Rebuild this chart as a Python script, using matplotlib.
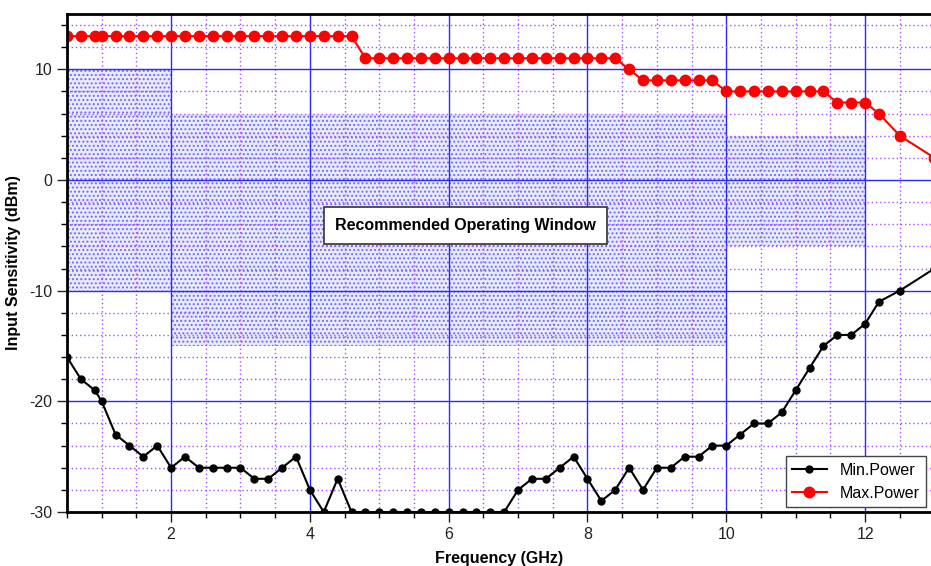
import matplotlib
matplotlib.use("Agg")
import matplotlib.pyplot as plt

plt.rcParams['font.family'] = ['Liberation Sans', 'DejaVu Sans']
plt.rcParams['hatch.linewidth'] = 0.9
plt.rcParams['axes.unicode_minus'] = False

# frequency points (GHz)
freq = [0.5, 0.7, 0.9, 1.0, 1.2, 1.4, 1.6, 1.8, 2.0, 2.2, 2.4, 2.6, 2.8, 3.0,
        3.2, 3.4, 3.6, 3.8, 4.0, 4.2, 4.4, 4.6, 4.8, 5.0, 5.2, 5.4, 5.6, 5.8,
        6.0, 6.2, 6.4, 6.6, 6.8, 7.0, 7.2, 7.4, 7.6, 7.8, 8.0, 8.2, 8.4, 8.6,
        8.8, 9.0, 9.2, 9.4, 9.6, 9.8, 10.0, 10.2, 10.4, 10.6, 10.8, 11.0, 11.2,
        11.4, 11.6, 11.8, 12.0, 12.2, 12.5, 13.0]

min_power = [-16, -18, -19, -20, -23, -24, -25, -24, -26, -25, -26, -26, -26, -26,
             -27, -27, -26, -25, -28, -30, -27, -30, -30, -30, -30, -30, -30, -30,
             -30, -30, -30, -30, -30, -28, -27, -27, -26, -25, -27, -29, -28, -26,
             -28, -26, -26, -25, -25, -24, -24, -23, -22, -22, -21, -19, -17,
             -15, -14, -14, -13, -11, -10, -8]

max_power = [13, 13, 13, 13, 13, 13, 13, 13, 13, 13, 13, 13, 13, 13,
             13, 13, 13, 13, 13, 13, 13, 13, 11, 11, 11, 11, 11, 11,
             11, 11, 11, 11, 11, 11, 11, 11, 11, 11, 11, 11, 11, 10,
             9, 9, 9, 9, 9, 9, 8, 8, 8, 8, 8, 8, 8,
             8, 7, 7, 7, 6, 4, 2]

# recommended operating window (stepped)
window_edges = [0.5, 2, 10, 12]
window_top = [10, 6, 4]
window_bottom = [-10, -15, -6]

fig = plt.figure(figsize=(9.31, 5.66), dpi=100)
ax = fig.add_axes([67/931, 54/566, 864/931, 498/566])

for i in range(len(window_top)):
    ax.fill_between([window_edges[i], window_edges[i+1]], window_bottom[i], window_top[i],
                    facecolor='#e9e9fc', edgecolor='#6a6aff', hatch='....',
                    linewidth=0, zorder=1)

ax.plot(freq, min_power, color='black', marker='o', markersize=5, linewidth=1.5,
        label='Min.Power', zorder=4)
ax.plot(freq, max_power, color='red', marker='o', markersize=7.5, linewidth=1.5,
        label='Max.Power', zorder=4)

ax.text(6.24, -4.1, 'Recommended Operating Window', fontsize=11.5, fontweight='bold',
        ha='center', va='center', zorder=5,
        bbox=dict(boxstyle='square,pad=0.7', facecolor='white', edgecolor='#333333', linewidth=1.2))

ax.set_xlim(0.5, 12.95)
ax.set_ylim(-30, 15)
ax.set_xticks([2, 4, 6, 8, 10, 12])
ax.set_xticks([x / 2 for x in range(1, 26)], minor=True)
ax.set_yticks([-30, -20, -10, 0, 10])
ax.set_yticks(list(range(-30, 15, 2)), minor=True)

ax.grid(which='major', color='#2a2aff', linewidth=1.0, zorder=2)
ax.grid(which='minor', color='#a850ff', linewidth=1.0, linestyle=(0, (1, 2)), zorder=2)
ax.set_axisbelow(False)

ax.tick_params(which='major', length=7, width=1, labelsize=11.5, colors='#222222')
ax.tick_params(which='minor', length=4, width=1)
for s in ['top', 'left', 'bottom']:
    ax.spines[s].set_linewidth(2)
    ax.spines[s].set_zorder(6)
ax.spines['right'].set_visible(False)

ax.set_xlabel('Frequency (GHz)', fontsize=11.5, fontweight='bold', labelpad=7)
ax.set_ylabel('Input Sensitivity (dBm)', fontsize=11.5, fontweight='bold', labelpad=6)

leg = ax.legend(loc='lower right', fontsize=11.5, fancybox=False, framealpha=1,
                edgecolor='#444444', borderaxespad=0.3, handlelength=2.2)
leg.set_zorder(7)
leg.get_frame().set_linewidth(1)

plt.savefig('out.png', dpi=100)
